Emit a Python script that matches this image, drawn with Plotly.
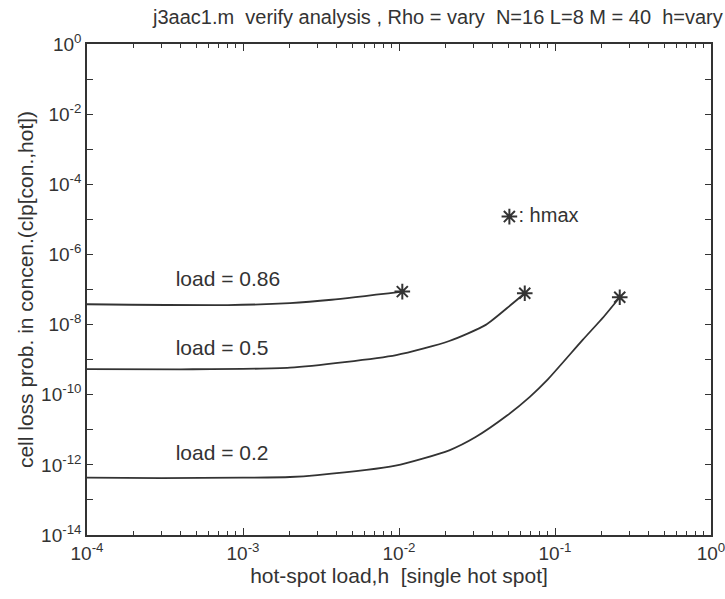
import plotly.graph_objects as go

# ---- data ----
h_020 = [1e-4, 3e-4, 1e-3, 2e-3, 3e-3, 0.0095, 0.021, 0.031, 0.049, 0.069, 0.089, 0.15, 0.206, 0.26]
clp_020 = [4.3e-13, 4.2e-13, 4.3e-13, 4.5e-13, 5.1e-13, 9.5e-13, 2.6e-12, 6.2e-12, 2.5e-11,
           8.7e-11, 2.6e-10, 3.6e-9, 1.7e-8, 6.0e-8]

h_050 = [1e-4, 4e-4, 2e-3, 0.0096, 0.021, 0.036, 0.052, 0.064]
clp_050 = [5.4e-10, 5.3e-10, 5.9e-10, 1.35e-9, 3.4e-9, 9.8e-9, 3.6e-8, 7.8e-8]

h_086 = [1e-4, 8e-4, 2e-3, 3.7e-3, 0.0105]
clp_086 = [3.8e-8, 3.6e-8, 4.1e-8, 5.1e-8, 8.7e-8]

hmax_h = [0.0105, 0.064, 0.26]
hmax_clp = [8.7e-8, 7.8e-8, 6.0e-8]

labels = ["load = 0.86", "load = 0.5", "load = 0.2"]
label_x = [3.7e-4, 3.7e-4, 3.7e-4]
label_y = [1.75e-7, 1.9e-9, 1.9e-12]

legend_x = [0.051]
legend_y = [1.2e-5]

x_major = [1e-4, 1e-3, 1e-2, 1e-1, 1e0]
x_major_text = ["10<sup>-4</sup>", "10<sup>-3</sup>", "10<sup>-2</sup>", "10<sup>-1</sup>", "10<sup>0</sup>"]
y_exps = list(range(0, -15, -1))

title = "j3aac1.m  verify analysis , Rho = vary  N=16 L=8 M = 40  h=vary"
xlabel = "hot-spot load,h  [single hot spot]"
ylabel = "cell loss prob. in concen.(clp[con.,hot])"

# ---- figure ----
FONT = "Liberation Sans, Arial, sans-serif"
INK = "#333333"

fig = go.Figure()
for hx, cy in [(h_086, clp_086), (h_050, clp_050), (h_020, clp_020)]:
    fig.add_trace(go.Scatter(x=hx, y=cy, mode="lines", line_shape="spline",
                             line=dict(color=INK, width=1.8, smoothing=0.6),
                             showlegend=False))

fig.add_trace(go.Scatter(x=hmax_h, y=hmax_clp, mode="markers",
                         marker=dict(symbol="asterisk-open", size=13, color=INK,
                                     line=dict(color=INK, width=2)),
                         showlegend=False))

fig.add_trace(go.Scatter(x=label_x, y=label_y, mode="text", text=labels,
                         textposition="middle right",
                         textfont=dict(family=FONT, size=21, color=INK),
                         showlegend=False))

fig.add_trace(go.Scatter(x=legend_x, y=legend_y, mode="markers+text", text=[": hmax"],
                         textposition="middle right",
                         marker=dict(symbol="asterisk-open", size=13, color=INK,
                                     line=dict(color=INK, width=2)),
                         textfont=dict(family=FONT, size=20, color=INK),
                         showlegend=False))

x_minor = [m * 10.0 ** e for e in range(-4, 0) for m in range(2, 10)]
y_text = [f"10<sup>{e}</sup>" if e % 2 == 0 else "" for e in y_exps]
y_vals = [10.0 ** e for e in y_exps]

fig.update_layout(
    width=725, height=599,
    margin=dict(l=87, r=14, t=44, b=64),
    paper_bgcolor="white", plot_bgcolor="white",
    font=dict(family=FONT, size=17, color=INK),
    annotations=[dict(text=title, xref="paper", yref="paper", x=0.561, y=1.055,
                      xanchor="center", yanchor="middle", showarrow=False,
                      font=dict(family=FONT, size=20, color=INK))],
    xaxis=dict(type="log", range=[-4, 0], showgrid=False, zeroline=False,
               automargin=False, ticklabeloverflow="allow",
               showline=True, linecolor=INK, linewidth=1.5, mirror="allticks",
               ticks="inside", ticklen=7, tickwidth=1.2, tickcolor=INK,
               tickvals=x_major, ticktext=x_major_text,
               tickfont=dict(family=FONT, size=19, color=INK),
               minor=dict(tickvals=x_minor, ticks="inside", ticklen=4,
                          tickcolor=INK, tickwidth=1, showgrid=False),
               title=dict(text=xlabel, standoff=4,
                          font=dict(family=FONT, size=21, color=INK))),
    yaxis=dict(type="log", range=[-14, 0], showgrid=False, zeroline=False,
               automargin=False, ticklabeloverflow="allow",
               showline=True, linecolor=INK, linewidth=1.5, mirror="allticks",
               ticks="inside", ticklen=6, tickwidth=1.2, tickcolor=INK,
               tickvals=y_vals, ticktext=y_text,
               tickfont=dict(family=FONT, size=19, color=INK),
               title=dict(text=ylabel, standoff=2,
                          font=dict(family=FONT, size=21, color=INK))),
)

fig.write_html("out.html")
